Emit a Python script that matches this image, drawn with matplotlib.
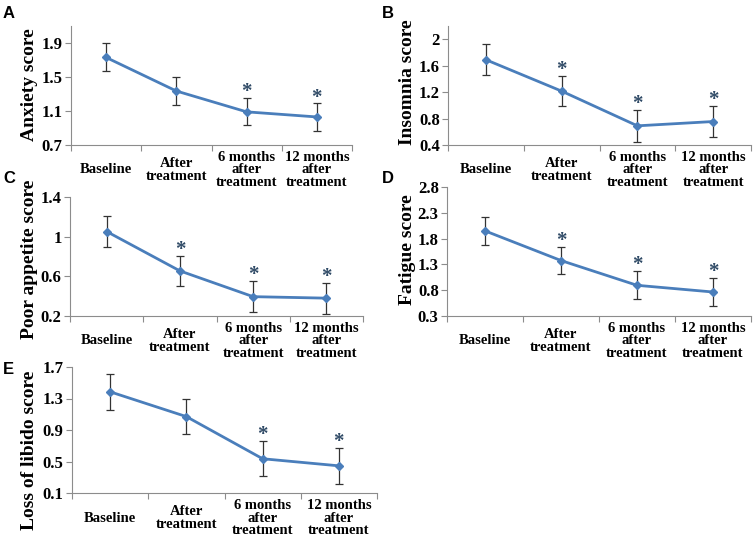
import matplotlib
matplotlib.use("Agg")
import matplotlib.pyplot as plt
import numpy as np

categories = ["Baseline", "After\ntreatment", "6 months\nafter\ntreatment", "12 months\nafter\ntreatment"]

anxiety_mean = [1.73, 1.335, 1.09, 1.03]
anxiety_err = [0.165, 0.16, 0.16, 0.16]
anxiety_sig = [False, False, True, True]

insomnia_mean = [1.69, 1.215, 0.69, 0.755]
insomnia_err = [0.235, 0.23, 0.24, 0.235]
insomnia_sig = [False, True, True, True]

appetite_mean = [1.052, 0.655, 0.395, 0.38]
appetite_err = [0.16, 0.155, 0.155, 0.157]
appetite_sig = [False, True, True, True]

fatigue_mean = [1.95, 1.375, 0.895, 0.765]
fatigue_err = [0.27, 0.27, 0.275, 0.275]
fatigue_sig = [False, True, True, True]

libido_mean = [1.385, 1.07, 0.535, 0.445]
libido_err = [0.225, 0.225, 0.225, 0.225]
libido_sig = [False, False, True, True]

W, H = 753, 536
fig = plt.figure(figsize=(W / 100, H / 100), dpi=100)

SERIF = ["Liberation Serif", "DejaVu Serif"]
LINE_C = "#4a7ebb"
AX_C = "#8c8c8c"
STAR_C = "#2f4a66"

def make_panel(letter, letter_xy, box, ylim, yticks, ylabel, ylabel_xy,
               mean, err, sig):
    left, right, top, bottom = box
    ax = fig.add_axes([left / W, 1 - bottom / H, (right - left) / W, (bottom - top) / H])
    x = np.arange(len(categories))
    ax.errorbar(x, mean, yerr=err, fmt="none", ecolor="#333333", elinewidth=0.9,
                capsize=3.2, capthick=0.9, zorder=2)
    ax.plot(x, mean, color=LINE_C, lw=2.0, marker="D", ms=4.5,
            mfc=LINE_C, mec=LINE_C, zorder=3)
    for xi, m, e, s in zip(x, mean, err, sig):
        if s:
            ax.annotate("*", (xi, m + e), xytext=(0, -3), textcoords="offset points",
                        ha="center", va="bottom", fontsize=15, fontweight="bold",
                        color=STAR_C, family=SERIF)
    ax.set_xlim(-0.5, 3.5)
    ax.set_ylim(*ylim)
    ax.set_yticks(yticks)
    ax.set_yticklabels([("%g" % t) for t in yticks], family=SERIF,
                       fontweight="bold", fontsize=12)
    ax.set_xticks([-0.5, 0.5, 1.5, 2.5, 3.5])
    ax.set_xticklabels([])
    ax.set_xticks(x, minor=True)
    ax.set_xticklabels(categories, minor=True, family=SERIF, fontweight="bold",
                       fontsize=10.5, va="center", linespacing=0.95)
    ax.tick_params(axis="x", which="major", length=4, color=AX_C, width=0.8)
    ax.tick_params(axis="x", which="minor", length=0, pad=18)
    ax.tick_params(axis="y", which="major", length=4, color=AX_C, width=0.8, pad=2)
    for sp in ("top", "right"):
        ax.spines[sp].set_visible(False)
    for sp in ("left", "bottom"):
        ax.spines[sp].set_color(AX_C)
        ax.spines[sp].set_linewidth(0.8)
    ax.set_ylabel(ylabel, family=SERIF, fontweight="bold", fontsize=14, va="center")
    lx, ly = ylabel_xy
    ax.yaxis.set_label_coords((lx - left) / (right - left), 1 - (ly - top) / (bottom - top))
    fig.text(letter_xy[0] / W, 1 - letter_xy[1] / H, letter, family=["Liberation Sans", "DejaVu Sans"],
             fontweight="bold", fontsize=12, ha="left", va="center")
    return ax

make_panel("A", (3, 13), (71, 352, 26, 145), (0.7, 2.1), [0.7, 1.1, 1.5, 1.9],
           "Anxiety score", (30, 85), anxiety_mean, anxiety_err, anxiety_sig)
make_panel("B", (382, 13), (448, 751, 26, 145), (0.4, 2.2), [0.4, 0.8, 1.2, 1.6, 2.0],
           "Insomnia score", (408, 82), insomnia_mean, insomnia_err, insomnia_sig)
make_panel("C", (3, 179), (70, 363, 197, 316), (0.2, 1.4), [0.2, 0.6, 1.0, 1.4],
           "Poor appetite score", (30, 259), appetite_mean, appetite_err, appetite_sig)
make_panel("D", (382, 179), (447, 751, 187, 316), (0.3, 2.8), [0.3, 0.8, 1.3, 1.8, 2.3, 2.8],
           "Fatigue score", (408, 250), fatigue_mean, fatigue_err, fatigue_sig)
make_panel("E", (3, 369), (72, 377, 367, 493), (0.1, 1.7), [0.1, 0.5, 0.9, 1.3, 1.7],
           "Loss of libido score", (30, 450), libido_mean, libido_err, libido_sig)

fig.savefig("out.png", dpi=100)
